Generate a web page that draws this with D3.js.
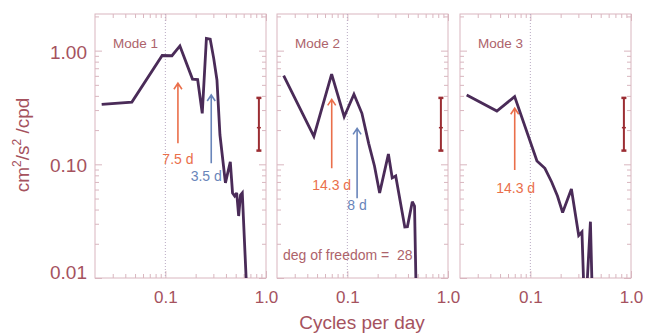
<!DOCTYPE html>
<html><head><meta charset="utf-8">
<script src="https://cdn.jsdelivr.net/npm/d3@7"></script>
<style>
html,body{margin:0;padding:0;background:#fff;}
svg{display:block;font-family:"Liberation Sans",Arial,Helvetica,sans-serif;}
</style></head><body>
<svg id="chart" width="646" height="334"></svg>
<script>
// Power spectra of the three modes: frequency (cycles per day) and power (cm²/s²/cpd)
const modeNames = ["Mode 1", "Mode 2", "Mode 3"];
const mode1Freq  = [0.0233, 0.0465, 0.0930, 0.1163, 0.1395, 0.1860, 0.2093, 0.2326, 0.2558, 0.2791, 0.3023, 0.3256, 0.3488, 0.3953, 0.4419, 0.4651, 0.4884, 0.5116, 0.5349, 0.5581, 0.5814, 0.6512];
const mode1Power = [0.336, 0.353, 0.906, 0.902, 1.10, 0.562, 0.557, 0.281, 1.28, 1.26, 0.855, 0.552, 0.181, 0.0686, 0.105, 0.056, 0.0526, 0.056, 0.0351, 0.0537, 0.056, 0.006];
const mode2Freq  = [0.0233, 0.0465, 0.0698, 0.0930, 0.1163, 0.1395, 0.1628, 0.1860, 0.2093, 0.2558, 0.2791, 0.3023, 0.3721, 0.3953, 0.4419, 0.4651, 0.4884];
const mode2Power = [0.604, 0.176, 0.622, 0.262, 0.413, 0.281, 0.153, 0.0966, 0.056, 0.123, 0.0759, 0.0789, 0.0281, 0.0283, 0.0469, 0.043, 0.004];
const mode3Freq  = [0.0233, 0.0465, 0.0698, 0.1163, 0.1395, 0.1628, 0.1860, 0.2093, 0.2558, 0.3023, 0.3256, 0.3488, 0.3953, 0.4186];
const mode3Power = [0.407, 0.294, 0.394, 0.107, 0.0922, 0.0699, 0.0526, 0.0377, 0.0607, 0.0237, 0.0254, 0.004, 0.0313, 0.004];

// Marked periods (days): panel index, period, arrow tip and tail in power units
const arrowPanel  = [0, 0, 1, 1, 2];
const arrowPeriod = [7.5, 3.5, 14.3, 8, 14.3];
const arrowTip    = [0.516, 0.407, 0.373, 0.207, 0.311];
const arrowTail   = [0.153, 0.102, 0.0923, 0.0502, 0.0891];
const arrowGroup  = ["a", "b", "a", "b", "a"];

// 95% confidence interval bar for 28 degrees of freedom
const ciFreq = 0.85, ciCenter = 0.21, ciLow = 0.132, ciHigh = 0.384;
const dof = 28;

// Axis ticks
const xLabelTicks = [0.1, 1];
const xLabelText  = ["0.1", "1.0"];
const xMinor = [0.03, 0.04, 0.05, 0.06, 0.07, 0.08, 0.09, 0.2, 0.3, 0.4, 0.5, 0.6, 0.7, 0.8, 0.9];
const yLabelTicks = [1, 0.1, 0.01];
const yLabelText  = ["1.00", "0.10", "0.01"];
const yMinor = [0.02, 0.03, 0.04, 0.05, 0.06, 0.07, 0.08, 0.09, 0.2, 0.3, 0.4, 0.5, 0.6, 0.7, 0.8, 0.9, 2];

const series = [[mode1Freq, mode1Power], [mode2Freq, mode2Power], [mode3Freq, mode3Power]];

// Layout
const panelLeft = [95, 277, 460], panelW = 171, plotTop = 14, plotBottom = 278;
const frameColor = "#d9b6bf", textColor = "#a5525e", modeColor = "#ad636b";
const lineColor = "#4a2b58", ciColor = "#9b2d33";
const arrowColor = { a: "#ea6f4b", b: "#6985ba" };
const labelGap = [16, 13, 17, 7, 18], labelDx = [0, -5, 0, 0, 1];

const svg = d3.select("#chart");
const y = d3.scaleLog().domain([0.01, 2.1]).range([plotBottom, plotTop]);

const defs = svg.append("defs");

series.forEach(([freq, power], i) => {
  const x0 = panelLeft[i];
  const x = d3.scaleLog().domain([0.02, 1]).range([x0, x0 + panelW]);
  const g = svg.append("g");

  defs.append("clipPath").attr("id", "clip" + i)
    .append("rect").attr("x", x0).attr("y", plotTop).attr("width", panelW).attr("height", plotBottom - plotTop);

  // inward ticks on all four sides
  const styleAxis = sel => {
    sel.select(".domain").remove();
    sel.selectAll(".tick line").attr("stroke", frameColor).attr("stroke-width", 1);
  };
  const noText = sel => sel.selectAll("text").remove();

  g.append("g").attr("transform", `translate(0,${plotBottom})`)
    .call(d3.axisBottom(x).tickValues(xMinor).tickSizeInner(-4).tickSizeOuter(0))
    .call(styleAxis).call(noText);
  g.append("g").attr("transform", `translate(0,${plotTop})`)
    .call(d3.axisTop(x).tickValues(xMinor).tickSizeInner(-4).tickSizeOuter(0))
    .call(styleAxis).call(noText);
  g.append("g").attr("transform", `translate(0,${plotTop})`)
    .call(d3.axisTop(x).tickValues(xLabelTicks).tickSizeInner(-7).tickSizeOuter(0))
    .call(styleAxis).call(noText);
  const xb = g.append("g").attr("transform", `translate(0,${plotBottom})`)
    .call(d3.axisBottom(x).tickValues(xLabelTicks).tickSizeInner(-7).tickSizeOuter(0).tickPadding(13)
      .tickFormat((d, k) => xLabelText[k]))
    .call(styleAxis);
  xb.selectAll("text").attr("fill", textColor).attr("font-size", 17)
    .attr("font-family", "Liberation Sans, Arial, sans-serif");

  g.append("g").attr("transform", `translate(${x0},0)`)
    .call(d3.axisLeft(y).tickValues(yMinor).tickSizeInner(-4).tickSizeOuter(0))
    .call(styleAxis).call(noText);
  g.append("g").attr("transform", `translate(${x0 + panelW},0)`)
    .call(d3.axisRight(y).tickValues(yMinor).tickSizeInner(-4).tickSizeOuter(0))
    .call(styleAxis).call(noText);
  g.append("g").attr("transform", `translate(${x0 + panelW},0)`)
    .call(d3.axisRight(y).tickValues(yLabelTicks).tickSizeInner(-7).tickSizeOuter(0))
    .call(styleAxis).call(noText);
  const yl = g.append("g").attr("transform", `translate(${x0},0)`)
    .call(d3.axisLeft(y).tickValues(yLabelTicks).tickSizeInner(-7).tickSizeOuter(0).tickPadding(8)
      .tickFormat((d, k) => yLabelText[k]))
    .call(styleAxis);
  if (i === 0) {
    // bottom label sits slightly raised so it clears the x labels
    yl.selectAll("text").attr("fill", textColor).attr("font-size", 19)
      .attr("font-family", "Liberation Sans, Arial, sans-serif")
      .attr("dy", d => d === 0.01 ? "0.05em" : "0.4em");
  } else {
    yl.selectAll("text").remove();
  }

  // frame
  g.append("rect").attr("x", x0).attr("y", plotTop).attr("width", panelW).attr("height", plotBottom - plotTop)
    .attr("fill", "none").attr("stroke", frameColor).attr("stroke-width", 1);

  // dotted reference at 0.1 cpd
  g.append("line").attr("x1", x(0.1)).attr("x2", x(0.1)).attr("y1", plotTop).attr("y2", plotBottom)
    .attr("stroke", "#b9a9c2").attr("stroke-width", 1).attr("stroke-dasharray", "1,2");

  // panel title
  g.append("text").attr("x", x0 + 18).attr("y", 48).attr("fill", modeColor)
    .attr("font-size", 13.5).text(modeNames[i]);

  if (i === 1) {
    g.append("text").attr("x", x0 + 6).attr("y", 260).attr("fill", modeColor)
      .attr("font-size", 14).style("white-space", "pre").text(`deg of freedom =  ${dof}`);
  }

  // confidence bar
  const cx = x(ciFreq);
  const ci = g.append("g").attr("stroke", ciColor).attr("stroke-width", 2);
  ci.append("line").attr("x1", cx).attr("x2", cx).attr("y1", y(ciHigh)).attr("y2", y(ciLow));
  [ciHigh, ciLow].forEach(v => ci.append("line").attr("x1", cx - 2.5).attr("x2", cx + 2.5)
    .attr("y1", y(v)).attr("y2", y(v)).attr("stroke-width", 2.5));
  ci.append("line").attr("x1", cx - 2).attr("x2", cx + 2).attr("y1", y(ciCenter)).attr("y2", y(ciCenter))
    .attr("stroke-width", 1.5);

  // period arrows
  arrowPeriod.forEach((p, k) => {
    if (arrowPanel[k] !== i) return;
    const ax = x(1 / p), ty = y(arrowTip[k]), by = y(arrowTail[k]);
    const col = arrowColor[arrowGroup[k]];
    g.append("path")
      .attr("d", `M${ax},${by}L${ax},${ty}M${ax - 4},${ty + 6}L${ax},${ty}L${ax + 4},${ty + 6}`)
      .attr("fill", "none").attr("stroke", col).attr("stroke-width", 1.6);
    g.append("text").attr("x", ax + labelDx[k]).attr("y", by + labelGap[k] + 5)
      .attr("text-anchor", "middle").attr("fill", col).attr("font-size", 14)
      .text(`${p} d`);
  });

  // spectrum line
  const pts = freq.map((f, k) => [f, power[k]]);
  g.append("path").datum(pts)
    .attr("clip-path", `url(#clip${i})`)
    .attr("d", d3.line().x(d => x(d[0])).y(d => y(d[1])))
    .attr("fill", "none").attr("stroke", lineColor).attr("stroke-width", 2.8)
    .attr("stroke-linejoin", "miter").attr("stroke-miterlimit", 3);
});

// axis titles
svg.append("text").attr("x", 362).attr("y", 329).attr("text-anchor", "middle")
  .attr("fill", textColor).attr("font-size", 19).text("Cycles per day");

const yTitle = svg.append("text").attr("transform", "translate(29,145) rotate(-90)")
  .attr("text-anchor", "middle").attr("fill", textColor).attr("font-size", 19);
[["cm", false], ["2", true], ["/s", false], ["2", true], [" /cpd", false]].forEach(([t, sup]) => {
  const ts = yTitle.append("tspan").text(t).style("white-space", "pre");
  if (sup) ts.attr("font-size", 12).attr("baseline-shift", "65%");
});
</script>
</body></html>
